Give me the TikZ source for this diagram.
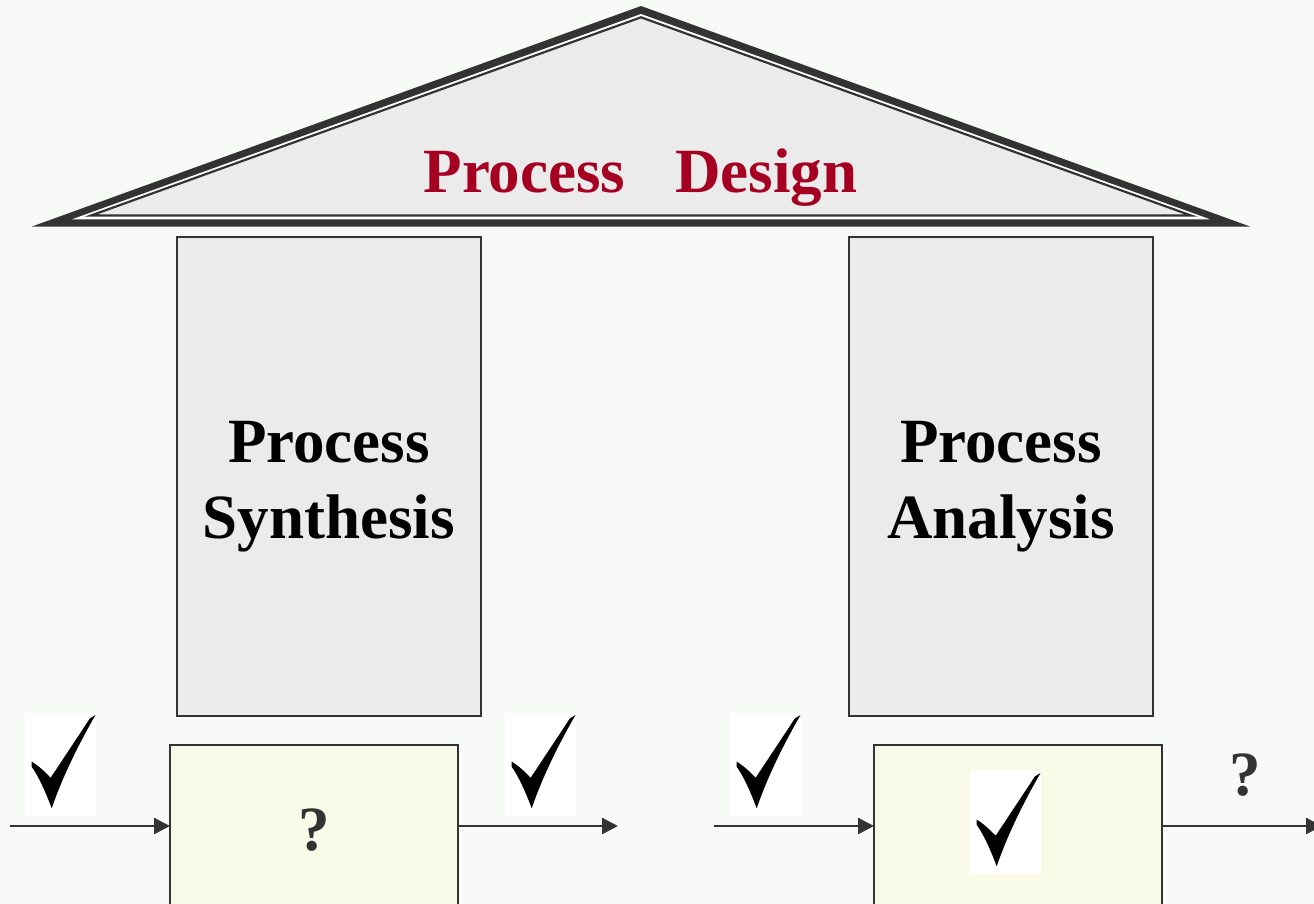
\documentclass[tikz,border=0pt]{standalone}
\usepackage{fontspec}
\setmainfont{Liberation Serif}
\usetikzlibrary{arrows.meta}

\definecolor{bgcol}{RGB}{248,250,247}
\definecolor{ink}{RGB}{51,51,51}
\definecolor{pillarfill}{RGB}{235,235,235}
\definecolor{boxfill}{RGB}{250,250,232}
\definecolor{titlered}{RGB}{165,0,33}

\tikzset{
  pillar/.style={draw=ink, line width=2pt, fill=pillarfill, inner sep=0pt, outer sep=0pt},
  unitbox/.style={draw=ink, line width=2pt, fill=boxfill, inner sep=0pt, outer sep=0pt},
  flow/.style={draw=ink, line width=2.5pt, -{Triangle[length=16pt,width=16pt]}},
  bigtext/.style={font=\fontsize{63}{76}\selectfont\bfseries, inner sep=0pt, anchor=base},
  title/.style={bigtext, text=titlered},
  query/.style={bigtext, text=ink},
  % a calligraphic tick on a white patch, origin at the patch's top-left corner
  tick/.pic={
    \fill[white] (0,0) rectangle (71,103);
    \fill[black] (6.7,53.7) -- (6.7,48.7)
      .. controls (14,53) and (20,59) .. (25.7,64.7)
      -- (65,5.3) -- (70.5,2)
      .. controls (56,27) and (38,62) .. (26.7,95.3)
      .. controls (21,80) and (14,64) .. cycle;
  }
}

\begin{document}
\begin{tikzpicture}[x=1pt,y=-1pt]
  % page
  \fill[bgcol] (0,0) rectangle (1314,904);
  \useasboundingbox (0,0) rectangle (1314,904);
  \clip (0,0) rectangle (1314,904);

  % roof: heavy outer band, thin white gap, thin inner rule
  \fill[ink] (641,6) -- (1250,226.5) -- (32,226.5) -- cycle;
  \fill[white] (641,14) -- (1210,219.3) -- (72,219.3) -- cycle;
  \draw[ink, line width=2.2pt, fill=pillarfill] (641,17.3) -- (1191,215.5) -- (91,215.5) -- cycle;
  \node[title] (roof) at (640.5,193) {Process\hspace{50pt}Design};

  % pillars
  \node[pillar, minimum width=304pt, minimum height=479pt, anchor=north west] (synth) at (177,237) {};
  \node[pillar, minimum width=304pt, minimum height=479pt, anchor=north west] (anal) at (849,237) {};
  \node[bigtext] (synthA) at (329,462) {Process};
  \node[bigtext] (synthB) at (329,538) {Synthesis};
  \node[bigtext] (analA) at (1001,462) {Process};
  \node[bigtext] (analB) at (1001,538) {Analysis};

  % process units
  \node[unitbox, minimum width=288pt, minimum height=180pt, anchor=north west] (unitL) at (170,745) {};
  \node[unitbox, minimum width=288pt, minimum height=180pt, anchor=north west] (unitR) at (874,745) {};
  \node[query] (qL) at (314,850) {?};

  % streams
  \coordinate (inL) at (10,826);
  \coordinate (outL) at (618,826);
  \coordinate (inR) at (714,826);
  \coordinate (outR) at (1322,826);
  \draw[flow] (inL) -- (inL -| unitL.west);
  \draw[flow] (outL -| unitL.east) -- (outL);
  \draw[flow] (inR) -- (inR -| unitR.west);
  \draw[flow] (outR -| unitR.east) -- (outR);

  % ticks and the unknown outlet
  \pic (tickInL) at (25,713) {tick};
  \pic (tickOutL) at (505,713) {tick};
  \pic (tickInR) at (730,713) {tick};
  \pic (tickUnitR) at (970,771) {tick};
  \node[query] (qR) at (1245,795) {?};
\end{tikzpicture}
\end{document}
